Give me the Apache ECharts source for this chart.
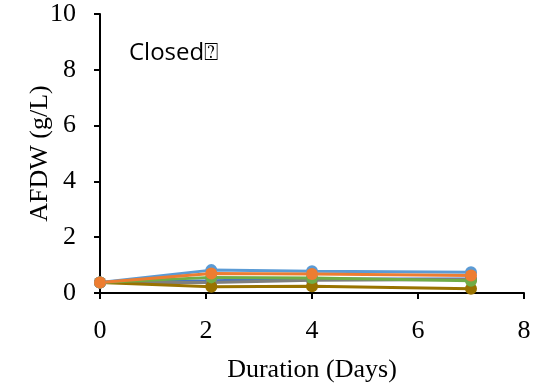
<!DOCTYPE html>
<html><head><meta charset="utf-8">
<script src="https://cdn.jsdelivr.net/npm/echarts@6/dist/echarts.min.js"></script>
<style>html,body{margin:0;padding:0;background:#fff}#c{width:542px;height:384px}</style>
</head><body><div id="c"></div>
<script>
const days = [0, 2.1, 4, 7];
const seriesNames = ['S1','S2','S3','S4','S5','S6'];
const seriesColors = ['#4472C4','#7F7F7F','#997300','#70AD47','#5B9BD5','#ED7D31'];
const s1 = [0.38, 0.44, 0.5, 0.5];
const s2 = [0.38, 0.38, 0.46, 0.48];
const s3 = [0.38, 0.22, 0.24, 0.15];
const s4 = [0.38, 0.56, 0.54, 0.44];
const s5 = [0.38, 0.82, 0.78, 0.74];
const s6 = [0.38, 0.7, 0.68, 0.63];
const values = [s1, s2, s3, s4, s5, s6];
const xTicks = [0, 2, 4, 6, 8];
const yTicks = [0, 2, 4, 6, 8, 10];
const chart = echarts.init(document.getElementById('c'));
chart.setOption({
  animation: false,
  grid: {left: 100, right: 18, top: 14, bottom: 91, containLabel: false, outerBoundsMode: 'none'},
  xAxis: {type: 'value', min: 0, max: 8, interval: 2,
    name: 'Duration (Days)', nameLocation: 'middle', nameGap: 64, nameMoveOverlap: false,
    nameTextStyle: {fontFamily: 'Liberation Serif', fontSize: 26, color: '#000'},
    axisLine: {lineStyle: {color: '#000', width: 2}},
    axisTick: {show: true, length: 6, lineStyle: {color: '#000', width: 2}},
    axisLabel: {fontFamily: 'Liberation Serif', fontSize: 26, color: '#000', margin: 25},
    splitLine: {show: false}},
  yAxis: {type: 'value', min: 0, max: 10, interval: 2,
    name: 'AFDW (g/L)', nameLocation: 'middle', nameGap: 47, nameMoveOverlap: false,
    nameTextStyle: {fontFamily: 'Liberation Serif', fontSize: 26, color: '#000'},
    axisLine: {show: true, lineStyle: {color: '#000', width: 2}},
    axisTick: {show: true, length: 6, lineStyle: {color: '#000', width: 2}},
    axisLabel: {fontFamily: 'Liberation Serif', fontSize: 26, color: '#000', margin: 24},
    splitLine: {show: false}},
  graphic: [{type: 'text', left: 129, top: 41,
    style: {text: 'Closed\u2370', font: '24px "Open Sans", "DejaVu Sans"', fill: '#000'}}],
  series: values.map((v, i) => ({
    name: seriesNames[i], type: 'line', symbol: 'circle', symbolSize: 12,
    data: days.map((d, j) => [d, v[j]]),
    itemStyle: {color: seriesColors[i]},
    lineStyle: {color: seriesColors[i], width: 3}
  }))
});
</script></body></html>
